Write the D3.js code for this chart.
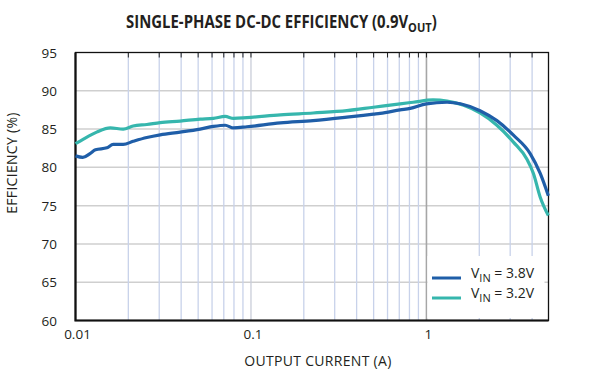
<!DOCTYPE html>
<html>
<head>
<meta charset="utf-8">
<script src="https://cdn.jsdelivr.net/npm/d3@7"></script>
<style>
  body { margin: 0; background: #fff; }
  svg text { font-family: "Open Sans", "Noto Sans", sans-serif; fill: #231f20; }
</style>
</head>
<body>
<div id="chart"></div>
<script>
// VIN = 3.8V
var currentHi = [0.01, 0.011, 0.0121, 0.013, 0.0151, 0.0164, 0.0187, 0.0213, 0.0255, 0.0304, 0.0395, 0.0513, 0.0611, 0.0713, 0.0795, 0.0948, 0.147, 0.226, 0.352, 0.499, 0.545, 0.708, 0.808, 1.0, 1.31, 1.56, 2.02, 2.52, 3.13, 3.9, 4.45, 4.95];
var effHi = [81.5, 81.3, 81.8, 82.3, 82.55, 83.0, 83.0, 83.4, 83.9, 84.25, 84.6, 85.0, 85.35, 85.5, 85.15, 85.3, 85.8, 86.1, 86.55, 86.95, 87.05, 87.5, 87.7, 88.3, 88.5, 88.3, 87.4, 86.1, 84.2, 81.8, 79.2, 76.3];

// VIN = 3.2V
var currentLo = [0.01, 0.0111, 0.0132, 0.0158, 0.0187, 0.0213, 0.0255, 0.0304, 0.0395, 0.0513, 0.0611, 0.0713, 0.0795, 0.0948, 0.147, 0.226, 0.352, 0.499, 0.708, 0.84, 1.09, 1.31, 1.63, 2.02, 2.52, 3.13, 3.73, 4.07, 4.45, 4.95];
var effLo = [83.1, 83.7, 84.6, 85.15, 85.0, 85.4, 85.6, 85.85, 86.05, 86.3, 86.4, 86.65, 86.4, 86.5, 86.85, 87.1, 87.4, 87.85, 88.3, 88.5, 88.8, 88.65, 88.1, 87.1, 85.5, 83.3, 81.1, 79.2, 76.1, 73.7];

var yTicks = [60, 65, 70, 75, 80, 85, 90, 95];
var xLabels = [0.01, 0.1, 1];
var xGrid = [0.02, 0.03, 0.04, 0.05, 0.06, 0.07, 0.08, 0.09, 0.1, 0.2, 0.3, 0.4, 0.5, 0.6, 0.7, 0.8, 0.9, 2, 3, 4];
var seriesNames = ["3.8V", "3.2V"];
var seriesColors = ["#1f5ea8", "#36b6ad"];

const width = 590;
const height = 377;
const plotLeft = 75.5, plotRight = 548.5, plotTop = 52.5, plotBottom = 320.5;

const svg = d3.select("#chart").append("svg")
    .attr("width", width)
    .attr("height", height);

const x = d3.scaleLog().domain([0.01, 4.96]).range([plotLeft, plotRight]);
const y = d3.scaleLinear().domain([60, 95]).range([plotBottom, plotTop]);

// horizontal grid
svg.append("g").selectAll("line")
    .data(yTicks.slice(1, -1))
    .enter().append("line")
    .attr("x1", plotLeft).attr("x2", plotRight)
    .attr("y1", d => y(d)).attr("y2", d => y(d))
    .attr("stroke", "#cfcfcf")
    .attr("stroke-width", 1.5);

// vertical grid
svg.append("g").selectAll("line")
    .data(xGrid)
    .enter().append("line")
    .attr("x1", d => x(d)).attr("x2", d => x(d))
    .attr("y1", plotTop).attr("y2", plotBottom)
    .attr("stroke", d => d === 0.1 ? "#c9cdd8" : "#c8d2ea")
    .attr("stroke-width", 1.3);

svg.append("line")
    .attr("x1", x(1)).attr("x2", x(1))
    .attr("y1", plotTop).attr("y2", plotBottom)
    .attr("stroke", "#a6a6a6")
    .attr("stroke-width", 1.6);

// small ticks hanging from the top border
svg.append("g").selectAll("line")
    .data(xGrid.concat([1]))
    .enter().append("line")
    .attr("x1", d => x(d)).attr("x2", d => x(d))
    .attr("y1", plotTop).attr("y2", plotTop + 5)
    .attr("stroke", "#222")
    .attr("stroke-width", 1);

// legend box
svg.append("rect")
    .attr("x", x(1) + 1).attr("y", 256)
    .attr("width", plotRight - x(1) - 5).attr("height", 62)
    .attr("fill", "#fff");

// frame
svg.append("rect")
    .attr("x", plotLeft).attr("y", plotTop)
    .attr("width", plotRight - plotLeft).attr("height", plotBottom - plotTop)
    .attr("fill", "none")
    .attr("stroke", "#111")
    .attr("stroke-width", 1.3);
svg.append("path")
    .attr("d", `M${plotLeft},${plotTop}V${plotBottom}H${plotRight}`)
    .attr("fill", "none")
    .attr("stroke", "#111")
    .attr("stroke-width", 2.2);

// curves
const line = d3.line()
    .x(d => x(d[0]))
    .y(d => y(d[1]))
    .curve(d3.curveMonotoneX);

svg.append("path")
    .attr("d", line(d3.zip(currentLo, effLo)))
    .attr("fill", "none")
    .attr("stroke", seriesColors[1])
    .attr("stroke-width", 3.2);

svg.append("path")
    .attr("d", line(d3.zip(currentHi, effHi)))
    .attr("fill", "none")
    .attr("stroke", seriesColors[0])
    .attr("stroke-width", 3.2);

// y tick labels
svg.append("g").selectAll("text")
    .data(yTicks)
    .enter().append("text")
    .attr("x", 57)
    .attr("y", d => y(d) + 5)
    .attr("text-anchor", "end")
    .attr("font-size", 13.5)
    .text(d => d);

// x tick labels
svg.append("g").selectAll("text")
    .data(xLabels)
    .enter().append("text")
    .attr("x", d => x(d) + 2)
    .attr("y", 339)
    .attr("text-anchor", "middle")
    .attr("font-size", 13.5)
    .text(d => d);

// axis titles
svg.append("text")
    .attr("x", 318)
    .attr("y", 366)
    .attr("text-anchor", "middle")
    .attr("font-size", 14)
    .attr("letter-spacing", 0.3)
    .text("OUTPUT CURRENT (A)");

svg.append("text")
    .attr("transform", "translate(17,163) rotate(-90)")
    .attr("text-anchor", "middle")
    .attr("font-size", 14)
    .attr("letter-spacing", 0.3)
    .text("EFFICIENCY (%)");

// title, squeezed to the condensed width of the original
const titleG = svg.append("g");
const title = titleG.append("text")
    .attr("font-size", 17.5)
    .attr("font-weight", "bold");
title.append("tspan").text("SINGLE-PHASE DC-DC EFFICIENCY (0.9V");
title.append("tspan").attr("dy", 4).attr("font-size", 13).text("OUT");
title.append("tspan").attr("dy", -4).text(")");
const titleW = title.node().getBBox().width;
titleG.attr("transform", `translate(126,28) scale(${311 / titleW},1)`);

// legend
const legend = svg.append("g").selectAll("g")
    .data(seriesNames)
    .enter().append("g")
    .attr("transform", (d, i) => `translate(432, ${278 + i * 20})`);

legend.append("line")
    .attr("x1", 0).attr("x2", 29)
    .attr("stroke", (d, i) => seriesColors[i])
    .attr("stroke-width", 3);

const lt = legend.append("text")
    .attr("x", 39)
    .attr("y", 0)
    .attr("font-size", 14);
lt.append("tspan").text("V");
lt.append("tspan").attr("dy", 4).attr("font-size", 11).text("IN");
lt.append("tspan").attr("dy", -4).text(d => " = " + d);
</script>
</body>
</html>
